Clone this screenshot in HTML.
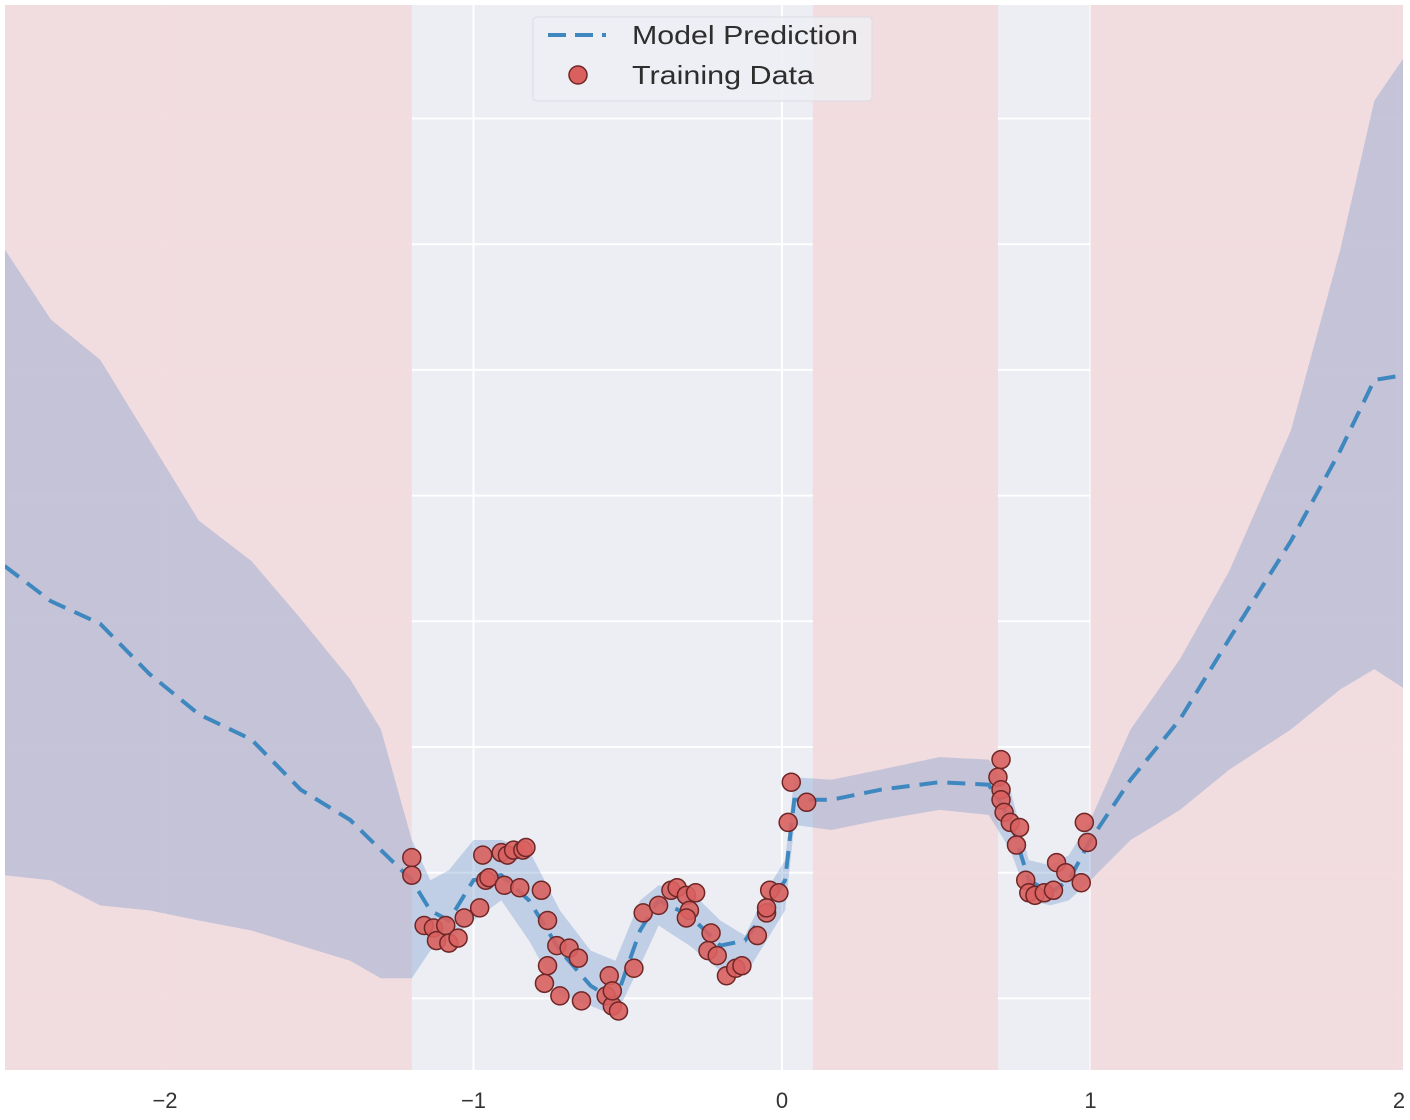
<!DOCTYPE html>
<html><head><meta charset="utf-8">
<style>
html,body{margin:0;padding:0;background:#fff;}
svg{display:block;font-family:"Liberation Sans",sans-serif;}
</style></head>
<body>
<svg id="chart" width="1410" height="1120" viewBox="0 0 1410 1120" xmlns="http://www.w3.org/2000/svg">
  <g id="plot"></g>
  <g id="legend">
    <rect x="533" y="17" width="339" height="84" rx="4" fill="#eeeef3" fill-opacity="0.85" stroke="#dcdce4"/>
    <line x1="548" y1="35" x2="606" y2="35" stroke="#3f88bf" stroke-width="4" stroke-dasharray="18,9"/>
    <text x="632" y="44" font-size="26" fill="#2e2e2e" textLength="226" lengthAdjust="spacingAndGlyphs">Model Prediction</text>
    <circle cx="578" cy="75" r="9" fill="#d9605f" stroke="#6e2626" stroke-width="1.5"/>
    <text x="632" y="84" font-size="26" fill="#2e2e2e" textLength="182" lengthAdjust="spacingAndGlyphs">Training Data</text>
  </g>
</svg>
<script>
const xTicks = [-2, -1, 0, 1, 2];
const xTickLabels = ["\u22122", "\u22121", "0", "1", "2"];
const yGrid = [-1, -0.5, 0, 0.5, 1, 1.5, 2, 2.5];
const ood1 = [-2.6, -1.2];
const ood2 = [0.1, 0.7];
const ood3 = [1.0, 2.1];
const gridX = [-2.52,-2.37,-2.21,-2.05,-1.89,-1.72,-1.56,-1.40,-1.30,-1.20,-1.14,-1.08,-1.00,-0.91,-0.82,-0.72,-0.62,-0.54,-0.46,-0.40,-0.30,-0.20,-0.12,-0.04,0.01,0.04,0.16,0.32,0.51,0.67,0.74,0.80,0.87,0.93,1.00,1.13,1.29,1.45,1.65,1.81,1.92,2.02];
const meanY = [0.72,0.58,0.49,0.29,0.13,0.03,-0.17,-0.29,-0.41,-0.53,-0.65,-0.69,-0.53,-0.51,-0.61,-0.81,-0.95,-1.01,-0.73,-0.61,-0.67,-0.79,-0.77,-0.63,-0.53,-0.21,-0.21,-0.17,-0.14,-0.15,-0.29,-0.53,-0.58,-0.53,-0.37,-0.13,0.11,0.43,0.82,1.18,1.46,1.48];
const upperY = [1.98,1.70,1.54,1.22,0.90,0.74,0.51,0.27,0.07,-0.37,-0.53,-0.49,-0.37,-0.37,-0.41,-0.65,-0.81,-0.85,-0.61,-0.55,-0.57,-0.69,-0.75,-0.55,-0.45,-0.12,-0.13,-0.09,-0.04,-0.05,-0.17,-0.45,-0.47,-0.43,-0.29,0.07,0.35,0.70,1.26,1.98,2.57,2.75];
const lowerY = [-0.51,-0.53,-0.63,-0.65,-0.69,-0.73,-0.79,-0.85,-0.92,-0.92,-0.81,-0.77,-0.69,-0.61,-0.77,-0.99,-1.03,-1.07,-0.87,-0.71,-0.79,-0.89,-0.91,-0.75,-0.65,-0.31,-0.33,-0.29,-0.25,-0.27,-0.41,-0.61,-0.63,-0.61,-0.53,-0.37,-0.25,-0.09,0.07,0.23,0.31,0.23];
const trainX = [-1.20,-1.20,-1.16,-1.13,-1.12,-1.09,-1.08,-1.05,-1.03,-0.98,-0.97,-0.96,-0.95,-0.91,-0.89,-0.87,-0.84,-0.83,-0.90,-0.85,-0.78,-0.76,-0.76,-0.73,-0.69,-0.66,-0.77,-0.72,-0.65,-0.56,-0.57,-0.55,-0.53,-0.55,-0.48,-0.45,-0.40,-0.36,-0.34,-0.31,-0.28,-0.30,-0.31,-0.23,-0.24,-0.21,-0.18,-0.15,-0.13,-0.08,-0.05,-0.05,-0.04,-0.01,0.02,0.03,0.08,0.71,0.70,0.71,0.71,0.72,0.74,0.77,0.76,0.79,0.80,0.82,0.85,0.88,0.89,0.92,0.97,0.98,0.99];
const trainY = [-0.44,-0.51,-0.71,-0.72,-0.77,-0.71,-0.78,-0.76,-0.68,-0.64,-0.43,-0.53,-0.52,-0.42,-0.43,-0.41,-0.41,-0.40,-0.55,-0.56,-0.57,-0.87,-0.69,-0.79,-0.80,-0.84,-0.94,-0.99,-1.01,-0.91,-0.99,-1.03,-1.05,-0.97,-0.88,-0.66,-0.63,-0.57,-0.56,-0.59,-0.58,-0.65,-0.68,-0.74,-0.81,-0.83,-0.91,-0.88,-0.87,-0.75,-0.66,-0.64,-0.57,-0.58,-0.30,-0.14,-0.22,-0.05,-0.12,-0.17,-0.21,-0.26,-0.30,-0.32,-0.39,-0.53,-0.58,-0.59,-0.58,-0.57,-0.46,-0.50,-0.54,-0.30,-0.38];

const L = 5, R = 1403, T = 5, B = 1070;
const xs = v => 782 + v * 308.5;
const ys = v => 747 - v * 251.4;
const NS = "http://www.w3.org/2000/svg";
const plot = document.getElementById('plot');
const svg = document.getElementById('chart');
function mk(tag, attrs, parent) {
  const e = document.createElementNS(NS, tag);
  for (const k in attrs) e.setAttribute(k, attrs[k]);
  (parent || plot).appendChild(e);
  return e;
}
const defs = mk('defs', {}, svg);
const cp = mk('clipPath', {id: 'clip'}, defs);
mk('rect', {x: L, y: T, width: R - L, height: B - T}, cp);
plot.setAttribute('clip-path', 'url(#clip)');

const bg = mk('rect', {x: L, y: T, width: R - L, height: B - T, fill: '#eceef4'});



yGrid.forEach(v => {
  const g = mk('line', {x1: L, x2: R, y1: ys(v), y2: ys(v), stroke: '#ffffff', 'stroke-width': 2});
  
  
});
xTicks.forEach(v => {
  const g = mk('line', {x1: xs(v), x2: xs(v), y1: T, y2: B, stroke: '#ffffff', 'stroke-width': 2});
  
  
});

[ood1, ood2, ood3].forEach((r, i) => {
  const s = mk('rect', {x: xs(r[0]), y: T, width: xs(r[1]) - xs(r[0]), height: B - T, fill: '#f2d9dd', 'fill-opacity': 0.9});
  
  
});

let d = '';
gridX.forEach((x, i) => { d += (i ? 'L' : 'M') + xs(x).toFixed(1) + ',' + ys(upperY[i]).toFixed(1); });
for (let i = gridX.length - 1; i >= 0; i--) d += 'L' + xs(gridX[i]).toFixed(1) + ',' + ys(lowerY[i]).toFixed(1);
d += 'Z';
const band = mk('path', {d: d, fill: '#6a92cc', 'fill-opacity': 0.33});



let m = '';
gridX.forEach((x, i) => { m += (i ? 'L' : 'M') + xs(x).toFixed(1) + ',' + ys(meanY[i]).toFixed(1); });
const line = mk('path', {d: m, fill: 'none', stroke: '#3f88bf', 'stroke-width': 4, 'stroke-dasharray': '18,10'});



trainX.forEach((x, i) => {
  const c = mk('circle', {cx: xs(x), cy: ys(trainY[i]), r: 9, fill: '#d9605f', 'fill-opacity': 0.9, stroke: '#6e2626', 'stroke-width': 1.5});
  
  
});

xTicks.forEach((v, i) => {
  const t = mk('text', {x: xs(v), y: 1108, 'text-anchor': 'middle', 'font-size': 22, fill: '#333'}, svg);
  t.textContent = xTickLabels[i];
  
  
});
svg.appendChild(document.getElementById('legend'));
</script>
</body></html>
